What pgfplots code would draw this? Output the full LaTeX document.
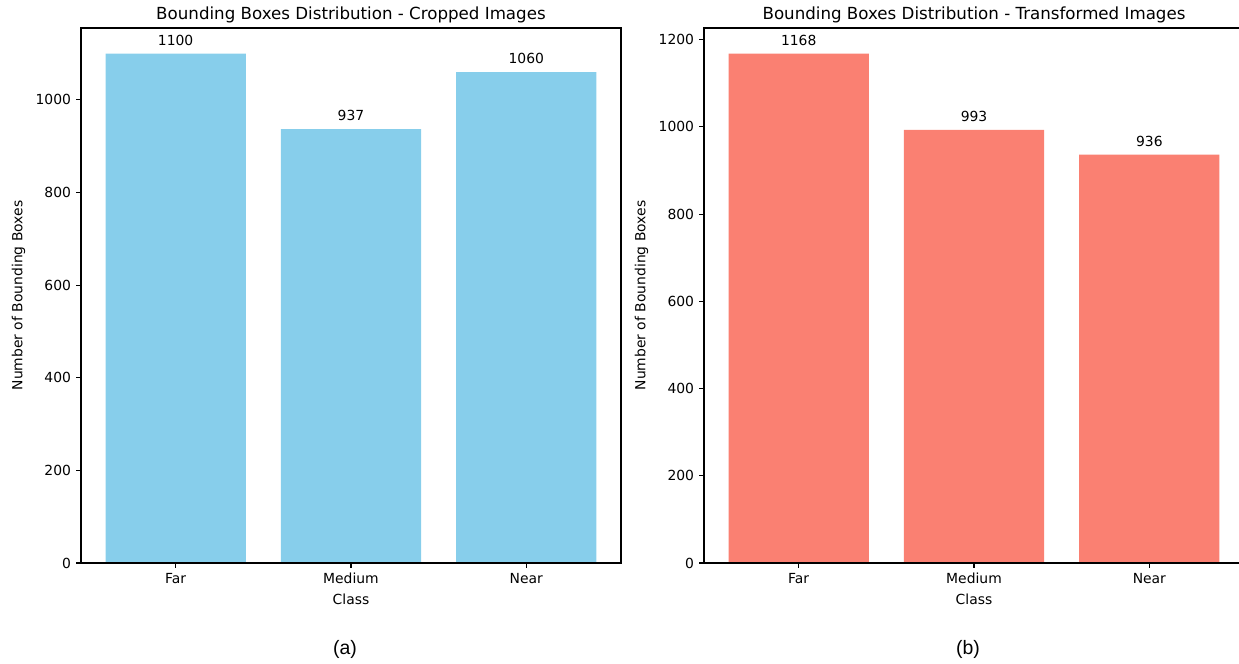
\documentclass[border=0pt]{standalone}
\usepackage{pgfplots}
\pgfplotsset{compat=1.18}
\usepackage{fontspec}
\setmainfont{DejaVu Sans}
\newfontfamily\capfont{Liberation Sans}
\definecolor{skyblue}{RGB}{135,206,235}
\definecolor{salmon}{RGB}{250,128,114}
\pgfplotsset{
  mybar/.style={
    scale only axis, width=388.8pt, height=385.2pt,
    ybar, bar width=0.8, bar shift=0pt,
    xmin=-0.54, xmax=2.54, ymin=0,
    xtick={0,1,2}, xticklabels={Far,Medium,Near},
    ytick distance=200,
    tick align=outside, major tick length=3.5pt,
    xtick pos=bottom, ytick pos=left,
    every tick/.style={black, line width=0.8pt},
    axis line style={black, line width=0.8pt},
    axis on top,
    /pgf/number format/assume math mode=true,
    /pgf/number format/1000 sep={},
    tick label style={font=\fontsize{10}{12}\selectfont},
    xticklabel style={anchor=north, inner sep=0pt, yshift=-3.5pt},
    yticklabel style={anchor=east, inner sep=0pt, xshift=-3.5pt},
    nodes near coords,
    every node near coord/.append style={font=\fontsize{10}{12}\selectfont, anchor=south, inner sep=0pt, yshift=5.5pt, black},
    xlabel=Class,
    xlabel style={at={(axis description cs:0.5,0)}, anchor=north, inner sep=0pt, yshift=-22.3pt, font=\fontsize{10}{12}\selectfont},
    ylabel={Number of Bounding Boxes},
    ylabel style={at={(axis description cs:-0.1157,0.5)}, anchor=center, inner sep=0pt, font=\fontsize{10}{12}\selectfont},
    title style={at={(axis description cs:0.5,1)}, anchor=base, inner sep=0pt, font=\fontsize{12}{14}\selectfont},
  }
}
\begin{document}
\begin{tikzpicture}
\path[use as bounding box] (0,0) rectangle (892.1pt,477.4pt);
\begin{axis}[mybar, at={(58.3pt,72pt)}, anchor=south west, ymax=1155,
  title={Bounding Boxes Distribution - Cropped Images}]
\addplot[draw=none, fill=skyblue] coordinates {(0,1100) (1,937) (2,1060)};
\end{axis}
\begin{axis}[mybar, at={(506.9pt,72pt)}, anchor=south west, ymax=1226.4,
  title={Bounding Boxes Distribution - Transformed Images}]
\addplot[draw=none, fill=salmon] coordinates {(0,1168) (1,993) (2,936)};
\end{axis}
\node[font=\capfont\fontsize{14}{16}\selectfont] at (248.4pt,10pt) {(a)};
\node[font=\capfont\fontsize{14}{16}\selectfont] at (697pt,10pt) {(b)};
\end{tikzpicture}
\end{document}
